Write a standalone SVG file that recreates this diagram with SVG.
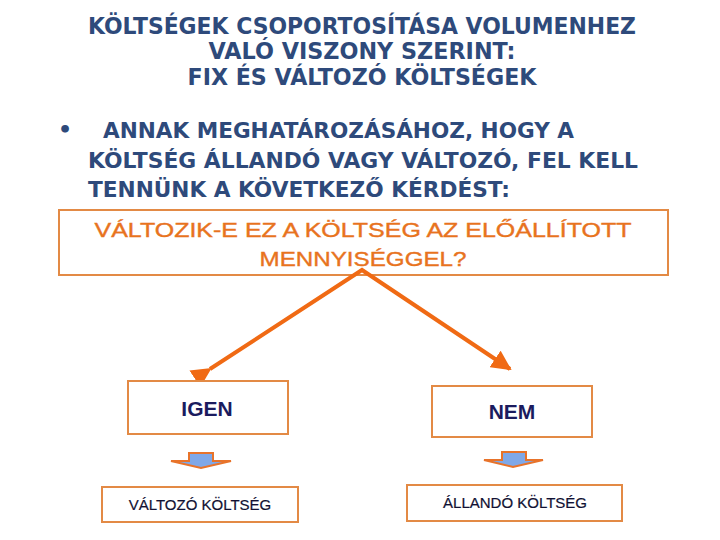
<svg xmlns="http://www.w3.org/2000/svg" width="720" height="540" viewBox="0 0 720 540">
<defs>
<style>
.title{font-family:"DejaVu Sans",sans-serif;font-weight:bold;font-size:23px;fill:#2E4A7B}
.bul{font-family:"DejaVu Sans",sans-serif;font-weight:bold;font-size:22px;fill:#2E4A7B}
.q{font-family:"Liberation Sans",Arial,sans-serif;font-size:21px;fill:#E8731E;stroke:#E8731E;stroke-width:0.4}
.lab{font-family:"Liberation Sans",Arial,sans-serif;font-weight:bold;font-size:21px;fill:#1B1B5E}
.small{font-family:"Liberation Sans",Arial,sans-serif;font-size:15px;fill:#111133;stroke:#111133;stroke-width:0.2}
.box{fill:#fff;stroke:#E38A45;stroke-width:2}
.conn{stroke:#F06A14;stroke-width:4;fill:none}
.blk{fill:#7FA8E8;stroke:#E8732A;stroke-width:2;stroke-linejoin:miter}
</style>
<marker id="ah" viewBox="0 0 10 10" refX="9" refY="5" markerWidth="5" markerHeight="5" orient="auto" markerUnits="strokeWidth">
<path d="M0,0 L10,5 L0,10 z" fill="#F06A14"/>
</marker>
</defs>
<rect width="720" height="540" fill="#fff"/>
<g id="title">
<text class="title" x="362" y="34" text-anchor="middle" textLength="548" lengthAdjust="spacingAndGlyphs">KÖLTSÉGEK CSOPORTOSÍTÁSA VOLUMENHEZ</text>
<text class="title" x="362" y="59" text-anchor="middle" textLength="307" lengthAdjust="spacingAndGlyphs">VALÓ VISZONY SZERINT:</text>
<text class="title" x="362" y="85" text-anchor="middle" textLength="349" lengthAdjust="spacingAndGlyphs">FIX ÉS VÁLTOZÓ KÖLTSÉGEK</text>
</g>
<g id="bullet">
<text class="bul" x="58" y="137">•</text>
<text class="bul" x="103" y="138" textLength="471" lengthAdjust="spacingAndGlyphs">ANNAK MEGHATÁROZÁSÁHOZ, HOGY A</text>
<text class="bul" x="88" y="168" textLength="550" lengthAdjust="spacingAndGlyphs">KÖLTSÉG ÁLLANDÓ VAGY VÁLTOZÓ, FEL KELL</text>
<text class="bul" x="88" y="197" textLength="422" lengthAdjust="spacingAndGlyphs">TENNÜNK A KÖVETKEZŐ KÉRDÉST:</text>
</g>
<g id="question">
<rect class="box" x="59" y="210" width="609" height="65"/>
<text class="q" x="363" y="237" text-anchor="middle" textLength="537" lengthAdjust="spacingAndGlyphs">VÁLTOZIK-E EZ A KÖLTSÉG AZ ELŐÁLLÍTOTT</text>
<text class="q" x="363" y="266" text-anchor="middle" textLength="207" lengthAdjust="spacingAndGlyphs">MENNYISÉGGEL?</text>
</g>
<g id="connectors">
<polyline class="conn" points="210,369 362,270 510,369" marker-start="url(#ah)" marker-end="url(#ah)" stroke-linejoin="miter"/>
</g>
<g id="igen">
<rect class="box" x="128" y="381" width="160" height="53"/>
<text class="lab" x="207" y="416" text-anchor="middle">IGEN</text>
</g>
<g id="nem">
<rect class="box" x="432" y="386" width="160" height="51"/>
<text class="lab" x="512" y="419" text-anchor="middle">NEM</text>
</g>
<g id="arrow-left">
<path class="blk" d="M189,453 H213 V461 H231 L201,468 L171,461 H189 Z"/>
</g>
<g id="arrow-right">
<path class="blk" d="M502,452 H526 V460 H543 L513,467 L484,460 H502 Z"/>
</g>
<g id="valtozo">
<rect class="box" x="102" y="487" width="196" height="35"/>
<text class="small" x="200" y="510" text-anchor="middle">VÁLTOZÓ KÖLTSÉG</text>
</g>
<g id="allando">
<rect class="box" x="407" y="485" width="215" height="36"/>
<text class="small" x="515" y="508" text-anchor="middle">ÁLLANDÓ KÖLTSÉG</text>
</g>
</svg>
